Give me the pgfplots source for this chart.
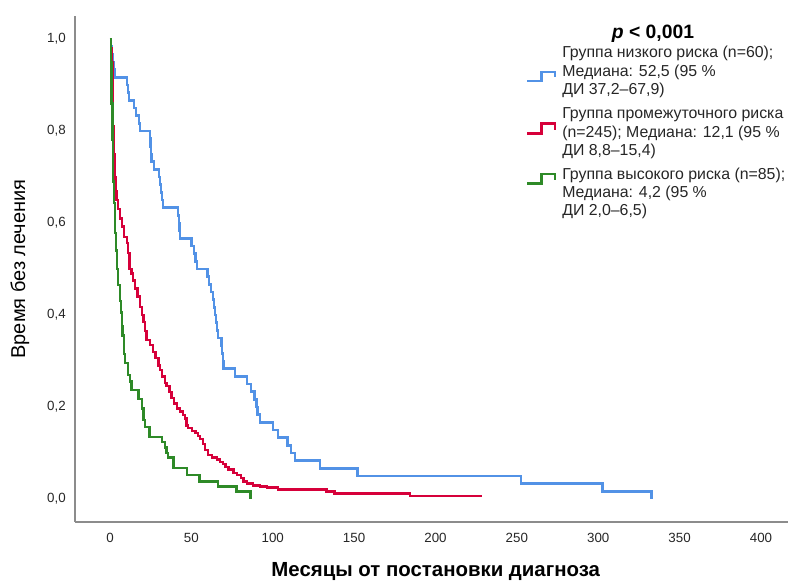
\documentclass[border=0pt]{standalone}
\usepackage{fontspec}
\setmainfont{Liberation Sans}
\usepackage{xcolor}
\usepackage{pgfplots}
\pgfplotsset{compat=1.18}

\definecolor{lowblue}{RGB}{82,146,230}
\definecolor{midred}{RGB}{214,0,58}
\definecolor{highgreen}{RGB}{46,138,40}

\begin{document}
\begin{tikzpicture}
% page frame in the proportions of the reference (1px = 0.75pt)
\useasboundingbox (-56.25pt,-44.25pt) rectangle (534.75pt,391.5pt);
\begin{axis}[
  scale only axis,
  width=534.75pt, height=379.5pt,
  xmin=-21.5, xmax=416.6,
  ymin=-0.05, ymax=1.05,
  axis lines=left,
  axis line style={-, draw=black!45, line width=0.8pt},
  major tick length=0pt,
  xtick={0,50,100,150,200,250,300,350,400},
  xticklabels={0,50,100,150,200,250,300,350,400},
  ytick={0,0.2,0.4,0.6,0.8,1.0},
  yticklabels={{0,0},{0,2},{0,4},{0,6},{0,8},{1,0}},
  tick label style={font=\fontsize{10}{12}\selectfont, text=black!85, inner sep=0pt},
  xticklabel style={anchor=north, yshift=-8.25pt},
  yticklabel style={anchor=east, xshift=-6.75pt},
  xlabel={Месяцы от постановки диагноза},
  ylabel={Время без лечения},
  xlabel style={at={(axis description cs:0.506,-0.0988)}, anchor=center,
                font=\bfseries\fontsize{15.3}{17}\selectfont},
  ylabel style={at={(axis description cs:-0.0772,0.5)}, anchor=center,
                font=\fontsize{15}{17}\selectfont},
  clip=false,
]
% low risk, n=60
\addplot[const plot, color=lowblue, line width=1.8pt] coordinates {
  (0,1.0)(0.8,0.9833)(1.2,0.9667)(1.8,0.95)(2.5,0.9333)(3.2,0.9167)
  (10.4,0.9)(11,0.8833)(11.6,0.8667)(14.7,0.85)(16,0.8333)(17.8,0.8167)(18.4,0.8)
  (24.6,0.7833)(25,0.7667)(25.3,0.75)(25.6,0.7333)(27,0.7167)(30,0.7)(30.7,0.6833)
  (31.5,0.6667)(32,0.65)(32.7,0.6333)(41.8,0.6167)(42.3,0.6)(42.8,0.5833)(43.2,0.5667)
  (50.2,0.55)(51.5,0.5333)(52.5,0.5167)(53.3,0.5)(59.9,0.4833)(61,0.4667)(62,0.45)
  (63.3,0.4333)(64,0.4167)(64.6,0.4)(65.2,0.3833)(65.6,0.3667)(66.2,0.35)(68.6,0.3333)
  (69,0.3167)(69.4,0.3)(69.8,0.2833)(76.8,0.2667)(84,0.25)(86.5,0.2333)(88.8,0.2167)
  (90,0.2)(90.6,0.1833)(92.2,0.1667)(100.3,0.15)(103.4,0.1333)(109,0.1167)(111.3,0.1)
  (113.7,0.0833)(129,0.0667)(152,0.05)(252.4,0.0333)(302.7,0.0167)(332.8,0.0)
};
% intermediate risk, n=245
\addplot[const plot, color=midred, line width=1.8pt] coordinates {
  (0,1.0)(0.5,0.98)(1,0.95)(1.5,0.88)(2,0.81)(2.5,0.75)(3,0.7)(3.5,0.67)(4,0.65)
  (5,0.63)(6,0.61)(7.2,0.592)(8.6,0.57)(10.3,0.556)(11.2,0.535)(12.1,0.5)(13.3,0.49)
  (14.3,0.475)(15.4,0.458)(17,0.44)(18.4,0.418)(19.5,0.4)(20.5,0.385)(21.5,0.365)
  (22.5,0.346)(24.5,0.335)(26.6,0.32)(28,0.306)(29.7,0.29)(30.7,0.28)(31.8,0.266)
  (33.8,0.252)(34.8,0.246)(36.5,0.232)(37.9,0.22)(39.5,0.208)(41,0.197)(43,0.19)
  (45,0.183)(46.1,0.175)(47.1,0.16)(48.1,0.154)(50.5,0.148)(52.5,0.143)(54,0.137)
  (55.3,0.13)(57.3,0.12)(58.4,0.107)(60.4,0.096)(62.5,0.09)(65.6,0.086)(67.5,0.08)
  (69.6,0.076)(71,0.07)(72.7,0.064)(75.8,0.056)(78,0.052)(80.5,0.045)(82,0.038)
  (84,0.034)(88,0.029)(92.2,0.027)(96.3,0.025)(103.4,0.021)(133,0.016)(138,0.012)
  (184.3,0.007)(228.4,0.007)
};
% high risk, n=85
\addplot[const plot, color=highgreen, line width=1.8pt] coordinates {
  (0,1.0)(0.5,0.95)(1,0.86)(1.5,0.78)(2,0.69)(2.5,0.643)(3.1,0.578)(3.7,0.54)
  (4.2,0.5)(5.1,0.465)(6,0.43)(6.6,0.405)(7.2,0.375)(7.8,0.355)(8.6,0.315)(9.2,0.295)
  (11,0.27)(12.3,0.255)(13.3,0.237)(17.4,0.217)(19.5,0.197)(20.5,0.172)(21.5,0.157)
  (24.3,0.135)(31.8,0.124)(33.8,0.112)(34.8,0.1)(35.8,0.09)(38.9,0.067)(47.5,0.052)
  (55.1,0.038)(66.3,0.027)(77.8,0.016)(86.4,0.0)
};
\end{axis}

% p-value and legend
\node[font=\bfseries\fontsize{14.5}{16}\selectfont, inner sep=0pt] at (433.5pt,366pt)
  {{\itshape p} < 0,001};
\begin{scope}[every node/.style={anchor=base west, inner sep=0pt,
    font=\fontsize{11.9}{14}\selectfont, text=black!85}]
  \node at (365.25pt,348.2pt) {Группа низкого риска (n=60);};
  \node at (365.25pt,334.4pt) {Медиана: 52,5 (95 \%};
  \node at (365.25pt,320.4pt) {ДИ 37,2–67,9)};
  \node at (365.25pt,302.4pt) {Группа промежуточного риска};
  \node at (365.25pt,288.6pt) {(n=245); Медиана: 12,1 (95 \%};
  \node at (365.25pt,274.9pt) {ДИ 8,8–15,4)};
  \node at (365.25pt,256.9pt) {Группа высокого риска (n=85);};
  \node at (365.25pt,243.2pt) {Медиана: 4,2 (95 \%};
  \node at (365.25pt,229.9pt) {ДИ 2,0–6,5)};
\end{scope}
\draw[lowblue, line width=1.8pt] (339pt,330.75pt) -- (350pt,330.75pt) -- (350pt,337.7pt) -- (360pt,337.7pt) -- (360pt,334pt);
\draw[midred, line width=1.8pt] (339pt,291.5pt) -- (350pt,291.5pt) -- (350pt,299pt) -- (360pt,299pt) -- (360pt,294pt);
\draw[highgreen, line width=1.8pt] (339pt,254pt) -- (350pt,254pt) -- (350pt,261pt) -- (360pt,261pt) -- (360pt,256.5pt);
\end{tikzpicture}
\end{document}
